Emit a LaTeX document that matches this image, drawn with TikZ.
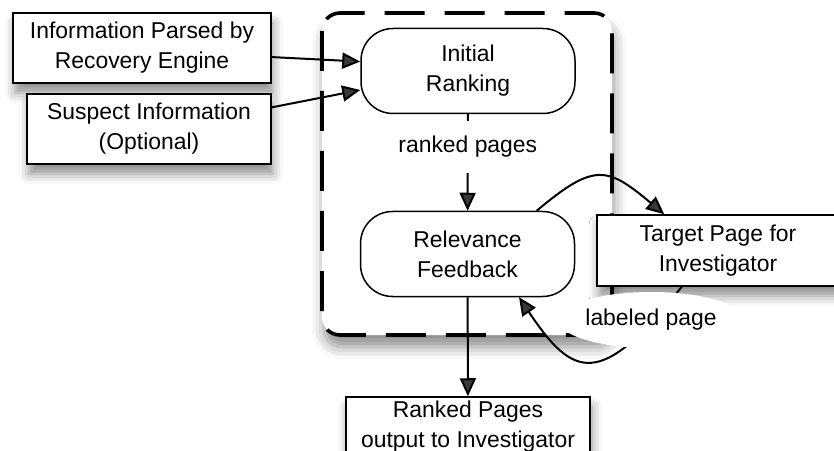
\documentclass[tikz,border=0pt]{standalone}
\usepackage{fontspec}
\setmainfont{Liberation Sans}
\usepackage{tikz}
\usetikzlibrary{arrows.meta,shapes.geometric,shadows.blur}

\tikzset{
  shade/.style={blur shadow={shadow xshift=1pt,shadow yshift=-5pt,shadow blur radius=5pt,shadow opacity=45}},
  box/.style={draw,line width=0.75pt,fill=white,shade,align=center,inner sep=0pt,
    font=\fontsize{11.45}{15}\selectfont},
  stage/.style={draw,line width=0.75pt,fill=white,rounded corners=16pt,align=center,inner sep=0pt,
    minimum width=107pt,minimum height=42.5pt,font=\fontsize{11.45}{15}\selectfont},
  link/.style={line width=1pt,-{Triangle[length=9pt,width=8pt]}},
  tag/.style={fill=white,font=\fontsize{11.45}{15}\selectfont}
}

\begin{document}
\begin{tikzpicture}[x=0.5pt,y=0.5pt]
  \useasboundingbox (0,0) rectangle (834,450);
  % recovery engine frame
  \draw[line width=1.8pt,dash pattern=on 20pt off 10pt,rounded corners=9pt,fill=white,
    blur shadow={shadow xshift=1pt,shadow yshift=-6pt,shadow blur radius=6pt,shadow opacity=45}]
    (322,437) rectangle (612,115);

  \node[box,minimum width=129pt,minimum height=35pt] (info) at (142,402)
    {Information Parsed by\\Recovery Engine};
  \node[box,minimum width=122pt,minimum height=35pt] (suspect) at (149,321)
    {Suspect Information\\(Optional)};
  \node[stage] (init) at (468,379) {Initial\\Ranking};
  \node[stage] (relev) at (467.5,196) {Relevance\\Feedback};
  \node[box,minimum width=121pt,minimum height=35.5pt] (target) at (718,199.5)
    {Target Page for\\Investigator};
  \node[box,minimum width=122pt,minimum height=30pt] (ranked) at (468,23)
    {Ranked Pages\\output to Investigator};

  \draw[link] (info.-4) -- (init.175);
  \draw[link] (suspect.10) -- (init.190);
  \draw[link] (init) -- node[tag,pos=0.34,inner ysep=7.5pt] {ranked pages} (relev);
  \draw[link] (relev.32) to[out=40,in=140,looseness=1.5] (target.146);
  \draw[link] (target.225) .. controls (600,60) and (573,72) .. (relev.-40);
  \draw[link] (relev) -- (ranked);

  \node[tag,ellipse,minimum width=86pt,minimum height=28pt,inner sep=0pt] (lbl) at (651,130)
    {labeled page};
\end{tikzpicture}
\end{document}
